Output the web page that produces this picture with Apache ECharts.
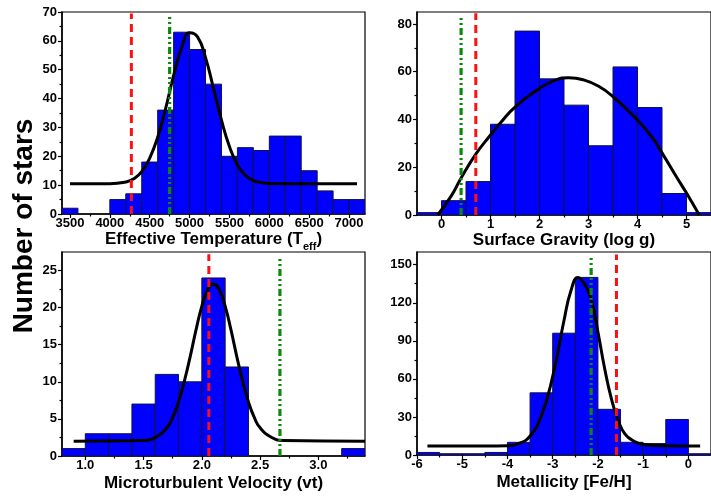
<!DOCTYPE html>
<html>
<head>
<meta charset="utf-8">
<script src="https://cdn.jsdelivr.net/npm/echarts@6/dist/echarts.min.js"></script>
<style>
  html, body { margin: 0; padding: 0; background: #ffffff; }
  #chart { width: 711px; height: 499px; }
</style>
</head>
<body>
<div id="chart"></div>
<script>
// ---- Effective temperature: histogram (bin width 200 K), fit curve, reference lines ----
const teffBinStart = [3400, 3600, 3800, 4000, 4200, 4400, 4600, 4800, 5000, 5200, 5400, 5600, 5800, 6000, 6200, 6400, 6600, 6800, 7000];
const teffCounts   = [2, 0, 0, 5, 7, 18, 36, 63, 57, 45, 20, 23, 22, 27, 27, 15, 8, 5, 5];
const teffFitX = [3500, 4000, 4200, 4300, 4400, 4500, 4600, 4700, 4800, 4900, 5000, 5100, 5200, 5300, 5400, 5500, 5600, 5700, 5800, 5900, 6000, 6500, 7100];
const teffFitY = [10.5, 10.5, 11.1, 12.2, 14.7, 19.4, 26.6, 36.6, 48, 57.6, 62.8, 61.4, 54.2, 43.5, 32.5, 23.4, 17, 13.4, 11.6, 10.9, 10.6, 10.5, 10.5];
const teffRed = 4270, teffGreen = 4750;
const teffXTicks = [3500, 4000, 4500, 5000, 5500, 6000, 6500, 7000];
const teffXMinor = [3750, 4250, 4750, 5250, 5750, 6250, 6750];
const teffYTicks = [0, 10, 20, 30, 40, 50, 60, 70];
const teffYMinor = [5, 15, 25, 35, 45, 55, 65];

// ---- Surface gravity (bin width 0.5 dex) ----
const loggBinStart = [-0.5, 0, 0.5, 1, 1.5, 2, 2.5, 3, 3.5, 4, 4.5, 5];
const loggCounts   = [1, 6, 14, 38, 77, 57, 46, 29, 62, 45, 9, 1];
const loggFitX = [-0.08, 0.2, 0.4, 0.7, 1.0, 1.2, 1.5, 2.0, 2.3, 2.6, 2.9, 3.2, 3.5, 4.0, 4.3, 4.5, 4.8, 5.0, 5.26];
const loggFitY = [0, 8, 15.5, 25.5, 33.5, 38.5, 45.2, 53, 56.3, 57.5, 56.6, 54, 49.6, 39.8, 32.5, 26, 15.8, 9.2, 0];
const loggGreen = 0.40, loggRed = 0.70;
const loggXTicks = [0, 1, 2, 3, 4, 5];
const loggXMinor = [0.5, 1.5, 2.5, 3.5, 4.5];
const loggYTicks = [0, 20, 40, 60, 80];
const loggYMinor = [10, 30, 50, 70];

// ---- Microturbulent velocity (bin width 0.2 km/s) ----
const vtBinStart = [0.8, 1.0, 1.2, 1.4, 1.6, 1.8, 2.0, 2.2, 2.4, 2.6, 2.8, 3.0, 3.2];
const vtCounts   = [1, 3, 3, 7, 11, 10, 24, 12, 0, 0, 0, 0, 1];
const vtFitX = [0.9, 1.5, 1.6, 1.7, 1.75, 1.8, 1.85, 1.9, 1.95, 2.0, 2.05, 2.1, 2.15, 2.2, 2.25, 2.3, 2.35, 2.4, 2.45, 2.5, 2.6, 2.7, 3.4];
const vtFitY = [2.0, 2.1, 2.5, 3.8, 5.2, 7.3, 10.1, 13.4, 17.0, 20.2, 22.4, 23.2, 22.4, 20.2, 17.0, 13.4, 10.1, 7.3, 5.2, 3.8, 2.5, 2.1, 2.0];
const vtRed = 2.06, vtGreen = 2.67;
const vtXTicks = [1.0, 1.5, 2.0, 2.5, 3.0];
const vtXMinor = [1.25, 1.75, 2.25, 2.75, 3.25];
const vtYTicks = [0, 5, 10, 15, 20, 25];
const vtYMinor = [2.5, 7.5, 12.5, 17.5, 22.5];

// ---- Metallicity (bin width 0.5 dex) ----
const fehBinStart = [-6, -5.5, -5, -4.5, -4, -3.5, -3, -2.5, -2, -1.5, -1, -0.5, 0];
const fehCounts   = [2, 1, 1, 2, 10, 49, 96, 140, 36, 10, 9, 28, 1];
const fehFitX = [-5.77, -4.5, -4.0, -3.75, -3.5, -3.25, -3.0, -2.75, -2.6, -2.44, -2.3, -2.15, -2.0, -1.85, -1.7, -1.55, -1.4, -1.2, -1.0, -0.5, 0.26];
const fehFitY = [7, 7, 7.3, 9, 15, 31, 62, 106, 129, 140, 135, 123, 97, 68, 44, 27, 16.5, 10.8, 8.3, 7.2, 7];
const fehGreen = -2.15, fehRed = -1.59;
const fehXTicks = [-6, -5, -4, -3, -2, -1, 0];
const fehXMinor = [-5.5, -4.5, -3.5, -2.5, -1.5, -0.5];
const fehYTicks = [0, 30, 60, 90, 120, 150];
const fehYMinor = [15, 45, 75, 105, 135];

const FONT = '"Liberation Sans", Arial, Helvetica, sans-serif';
const BAR_FILL = '#0000ff';
const BAR_EDGE = '#10104a';
const RED = '#ff1010';
const GREEN = '#0a8a0a';

const panels = [
  {
    rect: { left: 62, top: 12, width: 303, height: 202 }, nameGap: 15,
    xMin: 3400, xMax: 7200, yMin: 0, yMax: 70,
    xTicks: teffXTicks, xMinor: teffXMinor, yTicks: teffYTicks, yMinor: teffYMinor,
    xFmt: v => String(v),
    name: '{a|Effective Temperature (T}{s|eff}{a|)}',
    bins: teffBinStart, counts: teffCounts, binW: 200,
    fitX: teffFitX, fitY: teffFitY,
    red: teffRed, redTop: 69.5, green: teffGreen, greenTop: 68.4
  },
  {
    rect: { left: 417, top: 12, width: 303, height: 203 }, nameGap: 16,
    xMin: -0.5, xMax: 5.5, yMin: 0, yMax: 85,
    xTicks: loggXTicks, xMinor: loggXMinor, yTicks: loggYTicks, yMinor: loggYMinor,
    xFmt: v => String(v),
    name: 'Surface Gravity (log g)',
    bins: loggBinStart, counts: loggCounts, binW: 0.5,
    fitX: loggFitX, fitY: loggFitY,
    red: loggRed, redTop: 84.5, green: loggGreen, greenTop: 83.3
  },
  {
    rect: { left: 62, top: 252, width: 303, height: 204 }, nameGap: 19,
    xMin: 0.8, xMax: 3.4, yMin: 0, yMax: 27.5,
    xTicks: vtXTicks, xMinor: vtXMinor, yTicks: vtYTicks, yMinor: vtYMinor,
    xFmt: v => v.toFixed(1),
    name: 'Microturbulent Velocity (vt)',
    bins: vtBinStart, counts: vtCounts, binW: 0.2,
    fitX: vtFitX, fitY: vtFitY,
    red: vtRed, redTop: 27.2, green: vtGreen, greenTop: 26.8
  },
  {
    rect: { left: 417, top: 252, width: 303, height: 203 }, nameGap: 19,
    xMin: -6, xMax: 0.5, yMin: 0, yMax: 160,
    xTicks: fehXTicks, xMinor: fehXMinor, yTicks: fehYTicks, yMinor: fehYMinor,
    xFmt: v => String(v),
    name: 'Metallicity [Fe/H]',
    bins: fehBinStart, counts: fehCounts, binW: 0.5,
    fitX: fehFitX, fitY: fehFitY,
    red: fehRed, redTop: 158, green: fehGreen, greenTop: 156
  }
];

const chart = echarts.init(document.getElementById('chart'), null, { renderer: 'canvas' });

const option = {
  animation: false,
  backgroundColor: '#ffffff',
  grid: [], xAxis: [], yAxis: [], series: [],
  graphic: [{
    type: 'text',
    x: 24, y: 226,
    rotation: Math.PI / 2,
    style: {
      text: 'Number of stars',
      font: 'bold 28px ' + FONT,
      fill: '#000',
      align: 'center',
      verticalAlign: 'middle'
    }
  }]
};

const axisLabelBase = { color: '#000', fontWeight: 'bold', fontSize: 13, fontFamily: FONT };
const tickStyle = { color: '#000', width: 1.2 };

panels.forEach((p, i) => {
  option.grid.push(Object.assign({
    show: true, borderColor: '#000', borderWidth: 1.2, backgroundColor: 'transparent'
  }, p.rect));

  // main x axis: labels + major ticks + title
  option.xAxis.push({
    type: 'value', gridIndex: i, position: 'bottom', min: p.xMin, max: p.xMax,
    name: p.name, nameLocation: 'middle', nameGap: p.nameGap,
    nameTextStyle: {
      color: '#000', fontSize: 17, fontWeight: 'bold', fontFamily: FONT,
      rich: {
        a: { color: '#000', fontSize: 17, fontWeight: 'bold', fontFamily: FONT, lineHeight: 20, verticalAlign: 'top' },
        s: { color: '#000', fontSize: 11, fontWeight: 'bold', fontFamily: FONT, lineHeight: 11, padding: [11, 0, 0, 0], verticalAlign: 'top' }
      }
    },
    axisLine: { show: true, onZero: false, lineStyle: { color: '#000', width: 1.5 } },
    axisTick: { show: true, inside: false, length: 4, lineStyle: tickStyle, customValues: p.xTicks },
    axisLabel: Object.assign({ customValues: p.xTicks, formatter: p.xFmt, margin: 3 }, axisLabelBase),
    splitLine: { show: false }
  });
  // companion x axis carrying the minor ticks only
  option.xAxis.push({
    type: 'value', gridIndex: i, position: 'bottom', offset: 0, min: p.xMin, max: p.xMax,
    axisLine: { show: false, onZero: false },
    axisTick: { show: true, inside: false, length: 2.5, lineStyle: tickStyle, customValues: p.xMinor },
    axisLabel: { show: false },
    splitLine: { show: false }
  });

  option.yAxis.push({
    type: 'value', gridIndex: i, position: 'left', min: p.yMin, max: p.yMax,
    axisLine: { show: true, onZero: false, lineStyle: { color: '#000', width: 1.5 } },
    axisTick: { show: true, inside: false, length: 4, lineStyle: tickStyle, customValues: p.yTicks },
    axisLabel: Object.assign({ customValues: p.yTicks, margin: 5 }, axisLabelBase),
    splitLine: { show: false }
  });
  option.yAxis.push({
    type: 'value', gridIndex: i, position: 'left', offset: 0, min: p.yMin, max: p.yMax,
    axisLine: { show: false, onZero: false },
    axisTick: { show: true, inside: false, length: 2.5, lineStyle: tickStyle, customValues: p.yMinor },
    axisLabel: { show: false },
    splitLine: { show: false }
  });

  const xi = 2 * i, yi = 2 * i;

  // histogram bars: each datum is [binStart, binEnd, count]
  option.series.push({
    type: 'custom', xAxisIndex: xi, yAxisIndex: yi, clip: true, z: 2,
    data: p.bins.map((b, k) => [b, b + p.binW, p.counts[k]]),
    encode: { x: [0, 1], y: 2 },
    renderItem: (params, api) => {
      const n = api.value(2);
      if (!n) return null;
      const p0 = api.coord([api.value(0), 0]);
      const p1 = api.coord([api.value(1), n]);
      return {
        type: 'rect',
        shape: { x: p0[0], y: p1[1], width: p1[0] - p0[0], height: p0[1] - p1[1] },
        style: { fill: BAR_FILL, stroke: BAR_EDGE, lineWidth: 1 }
      };
    }
  });

  // fitted curve
  option.series.push({
    type: 'line', xAxisIndex: xi, yAxisIndex: yi, z: 3,
    data: p.fitX.map((x, k) => [x, p.fitY[k]]),
    smooth: 0.5, showSymbol: false, symbol: 'none', clip: true,
    lineStyle: { color: '#000', width: 3 }
  });

  // reference lines
  option.series.push({
    type: 'line', xAxisIndex: xi, yAxisIndex: yi, z: 4,
    data: [[p.red, 0], [p.red, p.redTop]], showSymbol: false, symbol: 'none',
    lineStyle: { color: RED, width: 3, type: [8, 5] }
  });
  option.series.push({
    type: 'line', xAxisIndex: xi, yAxisIndex: yi, z: 4,
    data: [[p.green, 0], [p.green, p.greenTop]], showSymbol: false, symbol: 'none',
    lineStyle: { color: GREEN, width: 3.2, type: [7, 3, 2, 3, 2, 3] }
  });
});

chart.setOption(option);
</script>
</body>
</html>
